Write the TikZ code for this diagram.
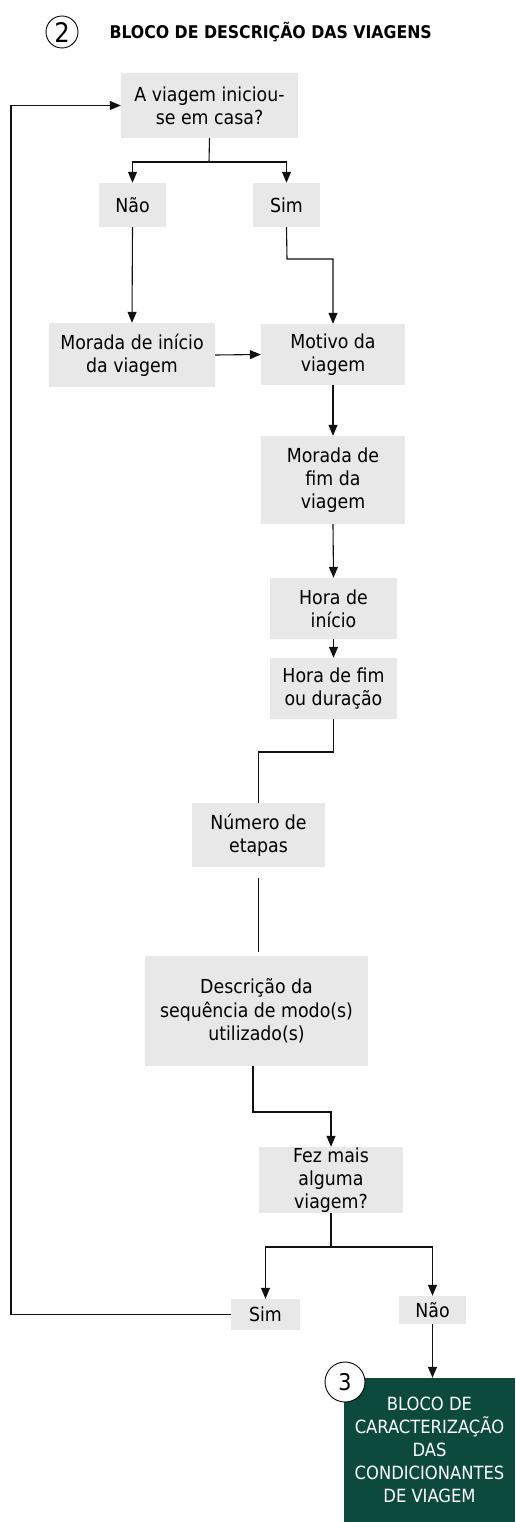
\documentclass[tikz,border=0pt]{standalone}
\usepackage{fontspec}
\setmainfont{DejaVu Sans Condensed}
\usetikzlibrary{arrows.meta}
\definecolor{boxgray}{HTML}{E8E8E8}
\definecolor{darkgreen}{HTML}{0C4A3E}
\definecolor{linegray}{HTML}{111111}
\tikzset{
  box/.style={fill=boxgray, inner sep=0pt, align=center, font=\fontsize{19.3}{23.3}\selectfont},
  wl/.style={minimum width=#1},
  hl/.style={minimum height=#1},
  conn/.style={draw=linegray, line width=1.1pt},
  arr/.style={conn, -{Triangle[length=11pt,width=9pt]}},
  numcirc/.style={circle, draw=black, fill=white, line width=0.9pt, inner sep=0pt}
}
\begin{document}
\begin{tikzpicture}[x=1pt,y=-1pt]
\useasboundingbox (0,0) rectangle (515,1522);
% header
\node[numcirc, minimum size=32pt, font=\fontsize{27}{27}\selectfont] (c2) at (62,32) {2};
\node[anchor=west, font=\fontsize{17.5}{20}\selectfont\bfseries] (title) at (106,32) {BLOCO DE DESCRIÇÃO DAS VIAGENS};
% boxes
\node[box, wl=177pt, hl=65pt] (q1) at (209.5,105.5) {A viagem iniciou-\\se em casa?};
\node[box, wl=67pt, hl=44pt] (nao1) at (132.5,205) {Não};
\node[box, wl=67pt, hl=44pt] (sim1) at (286.5,205) {Sim};
\node[box, wl=166pt, hl=64pt] (mini) at (132,355) {Morada de início\\da viagem};
\node[box, wl=144pt, hl=61pt] (mot) at (333,354.5) {Motivo da\\viagem};
\node[box, wl=144pt, hl=88pt] (mfim) at (333,480) {Morada de\\fim da\\viagem};
\node[box, wl=127pt, hl=61pt] (hini) at (333.5,608.5) {Hora de\\início};
\node[box, wl=127pt, hl=61pt] (hfim) at (333.5,688.5) {Hora de fim\\ou duração};
\node[box, wl=133pt, hl=64pt] (num) at (258.5,835) {Número de\\etapas};
\node[box, wl=223pt, hl=110pt] (desc) at (256.5,1011) {Descrição da\\sequência de modo(s)\\utilizado(s)};
\node[box, wl=144pt, hl=66pt] (fez) at (331,1180) {Fez mais\\alguma\\viagem?};
\node[box, wl=69pt, hl=31pt] (sim2) at (265.5,1314.5) {Sim};
\node[box, wl=67pt, hl=28pt] (nao2) at (432.5,1310) {Não};
\node[fill=darkgreen, text=white, inner sep=0pt, align=center, minimum width=171pt, minimum height=144pt, font=\fontsize{18.2}{23}\selectfont] (blk) at (429.5,1450) {BLOCO DE\\CARACTERIZAÇÃO\\DAS\\CONDICIONANTES\\DE VIAGEM};
\node[numcirc, minimum size=40pt, font=\fontsize{23}{23}\selectfont] (c3) at (345,1382) {3};
% connectors
\coordinate (s1) at (209,162);
\draw[conn] (q1.south) -- (s1);
\draw[arr] (s1) -| (nao1.north);
\draw[arr] (s1) -| (sim1.north);
\draw[arr] (nao1.south) -- (mini.north);
\coordinate (s2) at (287,259);
\draw[arr] (sim1.south) -- (s2) -| (mot.north);
\draw[arr] (mini.east) -- (mot.west);
\draw[arr] (mot.south) -- (mfim.north);
\draw[arr] (mfim.south) -- (hini.north);
\draw[arr] (hini.south) -- (hfim.north);
\coordinate (s3) at (333.5,752);
\draw[conn] (hfim.south) -- (s3) -| (num.north);
\draw[conn, shorten <=11pt, shorten >=4pt] (num.south) -- (num.south |- desc.north);
\coordinate (d1) at (253,1066);
\coordinate (s4) at (253,1112);
\draw[arr] (d1) -- (s4) -| (fez.north);
\coordinate (s5) at (331,1247);
\draw[conn] (fez.south) -- (s5);
\draw[arr] (s5) -| (sim2.north);
\draw[arr] (s5) -| (nao2.north);
\coordinate (lp) at (11,1314.5);
\draw[arr] (sim2.west) -- (lp) |- (q1.west);
\draw[arr] (nao2.south) -- (nao2.south |- blk.north);
\end{tikzpicture}
\end{document}
